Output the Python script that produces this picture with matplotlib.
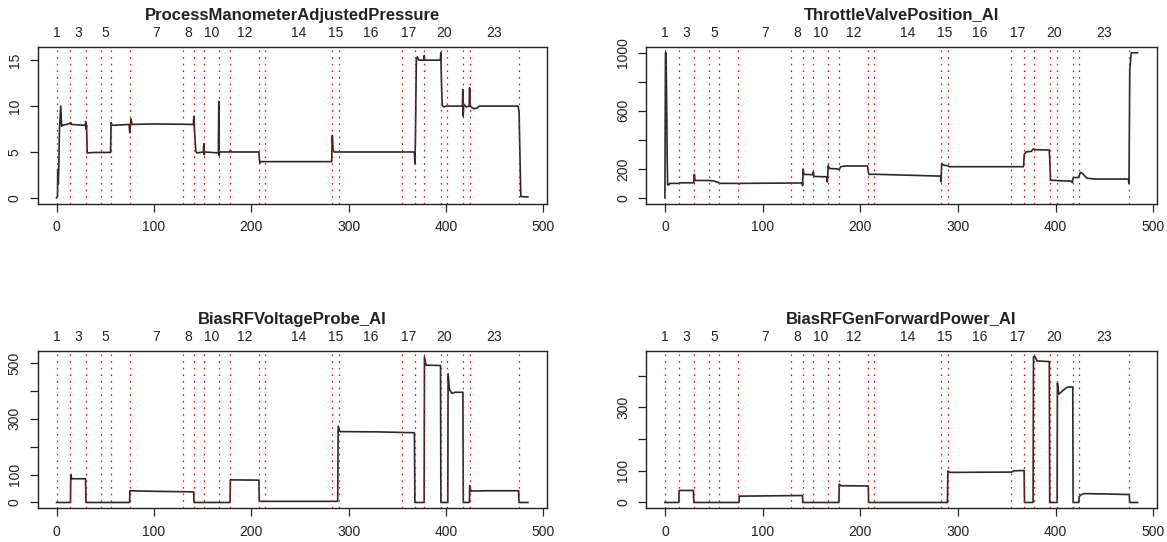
import matplotlib.pyplot as plt
import numpy as np

plt.rcParams['font.family'] = ['Liberation Sans', 'DejaVu Sans']

# step boundaries (red dotted lines), step 1 starts and ends at 0
step_bounds = [0, 14.1, 30.1, 45.3, 55.6, 75.0, 129.6, 141.2, 151.4, 166.7,
               178.5, 207.8, 214.5, 283.1, 289.6, 354.8, 368.0, 377.6, 394.6,
               401.4, 417.6, 424.2, 475.0]
step_names = [str(i) for i in range(1, 24)]

# ProcessManometerAdjustedPressure
pressure_x = [0, 1, 1.2, 1.8, 2.2, 3, 4.3, 5.2, 6, 10, 13.5, 14.5, 15.5, 29.5, 30,
              30.3, 30.8, 31.5, 40, 55.5, 56, 57, 74.5, 75.2, 76.5, 77.5, 100,
              140.5, 141, 141.5, 143, 144, 150.8, 151.2, 151.6, 152.2, 166.2,
              166.6, 167, 167.6, 178, 178.5, 179.5, 207.8, 208.3, 208.8, 209.5,
              282.5, 283.2, 284, 285, 367.5, 368, 368.5, 369.5, 370.5, 372,
              377.2, 377.6, 378, 394.2, 394.6, 395.2, 396, 397.5, 400, 416.8,
              417.2, 417.6, 418.2, 420, 421, 423.8, 424.2, 424.6, 426, 429, 432,
              434, 474, 475, 476, 476.8, 484]
pressure_y = [0, 0.2, 3.1, 1.5, 3.0, 7.5, 10.0, 7.8, 7.9, 8.0, 8.1, 8.2, 8.0, 7.9,
              8.3, 7.5, 7.9, 4.9, 4.95, 4.95, 8.2, 7.9, 8.0, 7.1, 8.6, 8.0, 8.05,
              8.0, 8.9, 7.6, 5.1, 4.9, 5.0, 5.9, 4.7, 5.0, 4.9, 10.5, 4.6, 5.0,
              5.0, 5.2, 5.0, 5.0, 4.2, 3.8, 3.95, 3.95, 6.8, 5.2, 5.0, 5.0, 3.7,
              6.0, 15.2, 15.35, 15.0, 15.0, 15.5, 15.0, 15.0, 15.8, 13.0, 10.1,
              9.9, 10.0, 10.0, 11.8, 8.9, 10.2, 10.0, 9.9, 10.0, 12.0, 10.0, 9.9,
              9.7, 9.8, 10.0, 10.0, 9.3, 4.0, 0.15, 0.1]

# ThrottleValvePosition_AI
throttle_x = [0, 0.6, 1.2, 1.8, 2.3, 2.8, 4, 5, 14, 15, 29.5, 30.2, 30.8, 45, 50,
              55, 56, 75.5, 76, 77, 140.5, 141, 141.5, 142.2, 151.5, 152, 152.5,
              165.8, 166.3, 167.2, 168.5, 176, 178.5, 180, 185, 207.5, 208.2,
              209, 214, 282.3, 282.8, 283.4, 285, 289.5, 291, 367.2, 368, 370,
              375, 377, 380, 393.5, 394.2, 394.8, 400, 410, 416.5, 417.2, 418,
              423.5, 425.5, 427, 432, 440, 474.5, 475.2, 476, 477.5, 484]
throttle_y = [0, 1000, 1000, 650, 300, 90, 90, 100, 100, 104, 104, 162, 120, 120,
              117, 105, 100, 100, 95, 100, 103, 85, 199, 162, 160, 180, 148, 145,
              110, 222, 203, 200, 195, 215, 220, 220, 180, 162, 163, 150, 111,
              238, 226, 222, 215, 215, 300, 318, 320, 337, 332, 330, 250, 122,
              120, 117, 115, 105, 140, 141, 175, 172, 136, 130, 130, 97, 884,
              1000, 1000]

# BiasRFVoltageProbe_AI
voltage_x = [0, 14.3, 14.6, 15.5, 29.8, 30.2, 75, 75.3, 100, 140.8, 141.2, 178.2,
             178.5, 180, 207.8, 208.2, 288.7, 289.2, 291, 330, 367.5, 368, 377.5,
             377.8, 379.5, 394.3, 394.7, 401.8, 402.1, 403.5, 406, 409, 417.3,
             417.7, 424, 424.3, 425.5, 440, 474.5, 474.9, 484]
voltage_y = [0, 0, 100, 85, 85, 0, 0, 42, 40, 38, 0, 0, 82, 81, 80, 4, 4, 273, 254,
             253, 250, 0, 0, 522, 492, 491, 0, 0, 461, 405, 391, 395, 395, 0, 0,
             60, 41, 42, 42, 0, 0]

# BiasRFGenForwardPower_AI
power_x = [0, 14.3, 14.6, 29.2, 29.6, 75.8, 76.1, 110, 140.8, 141.2, 178.2, 178.5,
           180, 208.2, 208.6, 289.3, 289.7, 292, 355, 357, 367.8, 368.2, 377,
           377.4, 379, 381, 393.6, 394, 401.6, 401.9, 403.3, 408, 412, 417.6, 418,
           423.8, 424.1, 426, 429, 450, 475.5, 475.9, 484]
power_y = [0, 0, 38, 38, 0, 0, 20, 21, 22, 0, 0, 58, 53, 52, 0, 0, 99, 95, 96, 100,
           101, 0, 0, 460, 460, 447, 445, 0, 0, 377, 342, 355, 364, 365, 0, 0, 18,
           24, 28, 27, 25, 0, 0]

panels = [
    ("ProcessManometerAdjustedPressure", pressure_x, pressure_y,
     [0, 5, 10, 15], ["0", "5", "10", "15"], (37.7, 47, 546.7, 203.7)),
    ("ThrottleValvePosition_AI", throttle_x, throttle_y,
     [0, 200, 400, 600, 800, 1000], ["0", "200", "", "600", "", "1000"],
     (646, 47, 1156.5, 203.7)),
    ("BiasRFVoltageProbe_AI", voltage_x, voltage_y,
     [0, 100, 200, 300, 400, 500], ["0", "100", "", "300", "", "500"],
     (37.7, 351, 546.7, 508.3)),
    ("BiasRFGenForwardPower_AI", power_x, power_y,
     [0, 100, 200, 300, 400], ["0", "100", "", "300", ""],
     (646, 351, 1156.5, 508.3)),
]

W, H = 1167, 542
fig = plt.figure(figsize=(W / 100, H / 100), dpi=100)

bounds = [0] + step_bounds
mids = [(bounds[i] + bounds[i + 1]) / 2 for i in range(len(step_bounds))]

step_texts = []
for title, xs, ys, yt, ytl, (l, t, r, b) in panels:
    ax = fig.add_axes([l / W, 1 - b / H, (r - l) / W, (b - t) / H])
    ax.plot(xs, ys, color='#2a2a2a', lw=1.2)
    for sb in step_bounds:
        ax.axvline(sb, color='red', lw=0.9, ls=(0, (1.3, 4.0)))
    xr = max(xs) - min(xs)
    yr = max(ys) - min(ys)
    ax.set_xlim(min(xs) - 0.04 * xr, max(xs) + 0.04 * xr)
    ax.set_ylim(min(ys) - 0.04 * yr, max(ys) + 0.04 * yr)
    ax.set_xticks(range(0, 501, 100))
    ax.set_yticks(yt)
    ax.set_yticklabels(ytl, rotation=90, va='center')
    ax.tick_params(axis='both', length=5.5, width=0.9, labelsize=10,
                   colors='#222222', labelcolor='#222222')
    ax.tick_params(axis='x', pad=6.5)
    ax.tick_params(axis='y', pad=6)
    for s in ax.spines.values():
        s.set_linewidth(1.0)
        s.set_color('#222222')
    ax.annotate(title, xy=(0.5, 1), xycoords='axes fraction', xytext=(0, 23),
                textcoords='offset points', ha='center', va='center',
                fontsize=12, fontweight='bold', color='#222222')
    row = []
    for m, name in zip(mids, step_names):
        row.append(ax.annotate(name, xy=(m, 1), xycoords=ax.get_xaxis_transform(),
                               xytext=(0, 10), textcoords='offset points',
                               ha='center', va='center', fontsize=10,
                               color='#222222'))
    step_texts.append(row)

# drop step labels that would overlap, like R's axis() does
renderer = fig.canvas.get_renderer()
probe = fig.text(0, 0, "m", fontsize=9)
gap = probe.get_window_extent(renderer).width
probe.remove()
for row in step_texts:
    last = -1e9
    for txt in row:
        bb = txt.get_window_extent(renderer)
        if bb.x0 > last + gap:
            last = bb.x1
        else:
            txt.set_visible(False)

fig.savefig("out.png", dpi=100)
